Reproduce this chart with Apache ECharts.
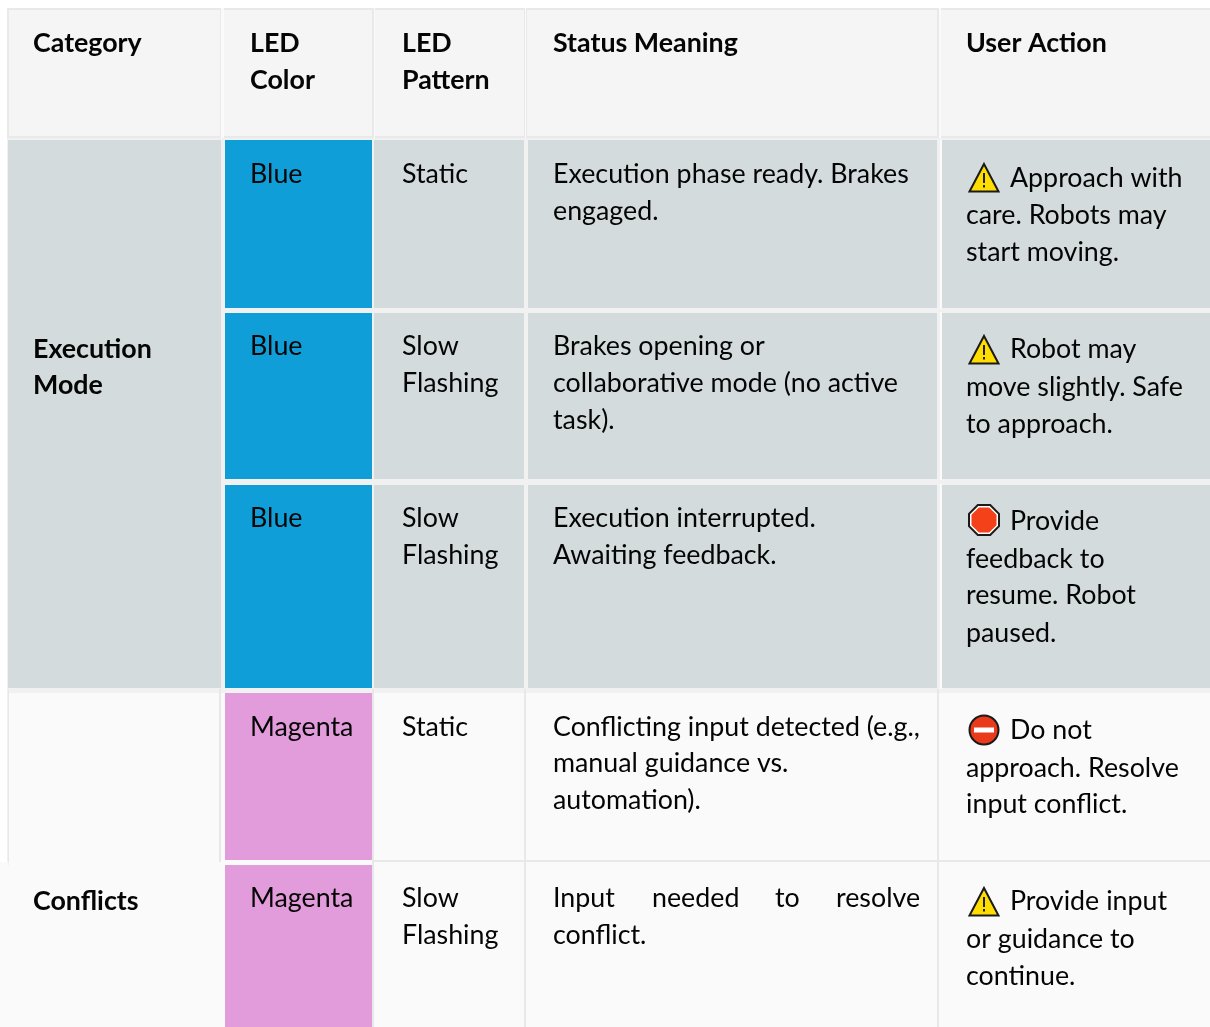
<!DOCTYPE html>
<html>
<head>
<meta charset="utf-8">
<style>
  html, body { margin: 0; padding: 0; background: #fff; }
  #Table { width: 1210px; height: 1027px; }
</style>
<script src="https://cdn.jsdelivr.net/npm/echarts@6/dist/echarts.min.js"></script>
</head>
<body>
<div id="Table"></div>
<script>
// 表格内容
var headers = [['Category'], ['LED', 'Color'], ['LED', 'Pattern'], ['Status Meaning'], ['User Action']];
var categories = [['Execution', 'Mode'], ['Conflicts']];
var ledColors = ['Blue', 'Blue', 'Blue', 'Magenta', 'Magenta'];
var ledPatterns = [['Static'], ['Slow', 'Flashing'], ['Slow', 'Flashing'], ['Static'], ['Slow', 'Flashing']];
var statusMeanings = [
    ['Execution phase ready. Brakes', 'engaged.'],
    ['Brakes opening or', 'collaborative mode (no active', 'task).'],
    ['Execution interrupted.', 'Awaiting feedback.'],
    ['Conflicting input detected (e.g.,', 'manual guidance vs.', 'automation).'],
    ['Input needed to resolve', 'conflict.']
];
var userActions = [
    ['Approach with', 'care. Robots may', 'start moving.'],
    ['Robot may', 'move slightly. Safe', 'to approach.'],
    ['Provide', 'feedback to', 'resume. Robot', 'paused.'],
    ['Do not', 'approach. Resolve', 'input conflict.'],
    ['Provide input', 'or guidance to', 'continue.']
];
var actionIcons = ['warning', 'warning', 'stop', 'noEntry', 'warning'];

// 版面位置(像素)
var colLeft = [8, 225, 376, 528, 942];
var colRight = [220, 372, 524, 937, 1210];
var rowTop = [140, 313, 485, 693, 865];
var rowBottom = [308, 479, 688, 860, 1027];
var textX = [33, 250, 402, 553, 966];
var headerBase = [52, 89];
var cellBase = [
    [183, 220, 257],
    [355, 392, 429],
    [527, 564, 601],
    [736, 772, 809],
    [907, 944, 981]
];
var actionBase = [
    [187, 224, 261],
    [358, 396, 433],
    [530, 568, 604, 642],
    [739, 777, 813],
    [910, 948, 985]
];
var categoryBase = [[358, 394], [910]];
var firstLineIndent = 1010;
var iconCenter = [[984, 178], [984, 350], [984, 520], [984, 730], [984, 902]];
var justifiedWordX = [553, 652, 775, 836];

var FONT = 'Lato, sans-serif';
var FONT_SIZE = 26.8;
var BASE_OFFSET = 8.7;

var rectData = [];
function addRect(x0, y0, x1, y1, color) {
    rectData.push([x0, y0, x1, y1, color]);
}
// 表头
addRect(7, 8, 1210, 138, '#e9e9e9');
for (var i = 0; i < 5; i++) {
    addRect(i == 0 ? 9 : colLeft[i] - 1, 10, colRight[i], 136, '#f5f5f5');
}
addRect(221, 8, 224, 138, '#fafafa');
addRect(374, 8, 375, 138, '#fafafa');
addRect(525, 8, 526, 138, '#fafafa');
addRect(939, 8, 941, 138, '#fafafa');
// 表身
addRect(7, 138, 1210, 1027, '#f1f1f1');
addRect(9, 693, 1210, 1027, '#fafafa');
addRect(0, 865, 220, 1027, '#fafafa');
// 类别单元格
addRect(8, 140, 221, 688, '#d3dbdd');
addRect(8, 689, 9, 862, '#e8e8e8');
addRect(219, 689, 221, 862, '#e8e8e8');
for (var r = 0; r < 5; r++) {
    var gray = r < 3;
    var ledFill = ledColors[r] == 'Blue' ? '#0f9ed8' : '#e39cdb';
    addRect(colLeft[1], rowTop[r], colRight[1], rowBottom[r], ledFill);
    addRect(colRight[1] + 2, rowTop[r] , colRight[2], rowBottom[r], gray ? '#d3dbdd' : '#fafafa');
    addRect(colLeft[3], rowTop[r], colRight[3], rowBottom[r], gray ? '#d3dbdd' : '#fafafa');
    addRect(colLeft[4], rowTop[r], colRight[4], rowBottom[r], gray ? '#d3dbdd' : '#fafafa');
    if (gray) {
        addRect(940, rowTop[r] - 1, 942, rowBottom[r] + 1, '#fafafa');
    }
}
addRect(524, 689, 526, 1027, '#e8e8e8');
addRect(372, 689, 374, 1027, '#e8e8e8');
addRect(937, 689, 939, 1027, '#e8e8e8');
addRect(374, 860, 1210, 862, '#e8e8e8');
addRect(0, 862, 8, 1027, '#fafafa');

var textData = [];
function addLines(lines, x, bases, bold) {
    lines.forEach(function (line, k) {
        textData.push([x, bases[k], line, bold ? 1 : 0]);
    });
}
headers.forEach(function (h, c) {
    addLines(h, textX[c], headerBase, true);
});
categories.forEach(function (c, k) {
    addLines(c, textX[0], categoryBase[k], true);
});
for (var r = 0; r < 5; r++) {
    addLines([ledColors[r]], textX[1], cellBase[r]);
    addLines(ledPatterns[r], textX[2], cellBase[r]);
    if (r == 4) {
        // 两端对齐的一行
        statusMeanings[r][0].split(' ').forEach(function (w, k) {
            textData.push([justifiedWordX[k], cellBase[r][0], w, 0]);
        });
        addLines(statusMeanings[r].slice(1), textX[3], cellBase[r].slice(1));
    } else {
        addLines(statusMeanings[r], textX[3], cellBase[r]);
    }
    addLines(userActions[r].slice(0, 1), firstLineIndent, actionBase[r]);
    addLines(userActions[r].slice(1), textX[4], actionBase[r].slice(1));
}

var iconData = actionIcons.map(function (kind, r) {
    return [iconCenter[r][0], iconCenter[r][1], kind];
});

function renderRect(params, api) {
    var p0 = api.coord([api.value(0), api.value(1)]);
    var p1 = api.coord([api.value(2), api.value(3)]);
    return {
        type: 'rect',
        shape: { x: p0[0], y: p0[1], width: p1[0] - p0[0], height: p1[1] - p0[1] },
        style: { fill: api.value(4) }
    };
}

function renderText(params, api) {
    var p = api.coord([api.value(0), api.value(1)]);
    return {
        type: 'text',
        x: p[0],
        y: p[1] - BASE_OFFSET,
        style: {
            text: api.value(2),
            fill: '#050505',
            font: (api.value(3) == 1 ? 'bold ' : '') + FONT_SIZE + 'px ' + FONT,
            align: 'left',
            verticalAlign: 'middle'
        }
    };
}

function renderIcon(params, api) {
    var p = api.coord([api.value(0), api.value(1)]);
    var x = p[0], y = p[1];
    var kind = api.value(2);
    var children;
    if (kind == 'warning') {
        children = [
            { type: 'polygon', shape: { points: [[x, y - 14], [x + 14.5, y + 13.5], [x - 14.5, y + 13.5]] },
              style: { fill: '#ffdd00', stroke: '#1a1a1a', lineWidth: 2 } },
            { type: 'rect', shape: { x: x - 1, y: y - 5, width: 2, height: 10 }, style: { fill: '#222' } },
            { type: 'rect', shape: { x: x - 1, y: y + 7, width: 2, height: 2.5 }, style: { fill: '#222' } }
        ];
    } else if (kind == 'stop') {
        var oct = function (r) {
            var s = r * 0.414;
            return [[x - s, y - r], [x + s, y - r], [x + r, y - s], [x + r, y + s], [x + s, y + r], [x - s, y + r], [x - r, y + s], [x - r, y - s]];
        };
        children = [
            { type: 'polygon', shape: { points: oct(15) }, style: { fill: '#fff', stroke: '#1a1a1a', lineWidth: 2 } },
            { type: 'polygon', shape: { points: oct(12.5) }, style: { fill: '#f4411a' } }
        ];
    } else {
        children = [
            { type: 'circle', shape: { cx: x, cy: y, r: 14.5 }, style: { fill: '#ea3a1c', stroke: '#1a1a1a', lineWidth: 2 } },
            { type: 'rect', shape: { x: x - 10, y: y - 2.5, width: 20, height: 5 }, style: { fill: '#fff' } }
        ];
    }
    return { type: 'group', children: children };
}

var chart = echarts.init(document.getElementById('Table'));
chart.setOption({
    animation: false,
    backgroundColor: '#ffffff',
    grid: { left: 0, top: 0, right: 0, bottom: 0 },
    xAxis: { type: 'value', min: 0, max: 1210, show: false },
    yAxis: { type: 'value', min: 0, max: 1027, inverse: true, show: false },
    series: [
        { type: 'custom', name: 'cells', renderItem: renderRect, data: rectData, clip: false },
        { type: 'custom', name: 'icons', renderItem: renderIcon, data: iconData, clip: false },
        { type: 'custom', name: 'text', renderItem: renderText, data: textData, clip: false }
    ]
});
</script>
</body>
</html>
